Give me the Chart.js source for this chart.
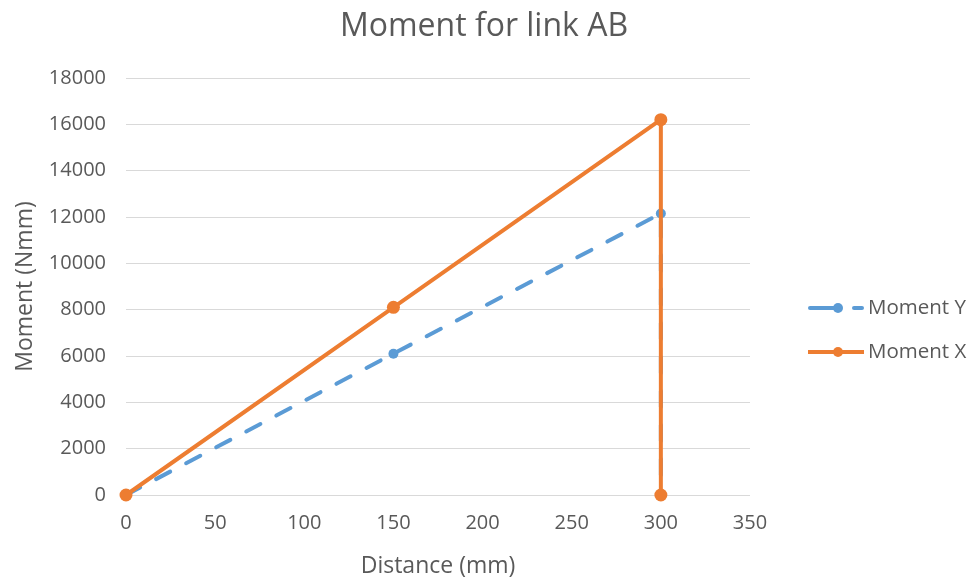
<!DOCTYPE html>
<html>
<head>
<meta charset="utf-8">
<script src="https://cdn.jsdelivr.net/npm/chart.js@4/dist/chart.umd.min.js"></script>
<style>
  html, body { margin: 0; padding: 0; background: #ffffff; }
  #wrap { width: 974px; height: 581px; }
</style>
</head>
<body>
<div id="wrap"><canvas id="c" width="974" height="581"></canvas></div>
<script>
// Distances along link AB (mm)
const distance = [0, 150, 300, 300];
// Bending moments (Nmm)
const momentY = [0, 6100, 12150, 0];
const momentX = [0, 8100, 16200, 0];
const seriesNames = ['Moment Y', 'Moment X'];
const seriesColors = ['#5b9bd5', '#ed7d31'];
const chartTitle = 'Moment for link AB';
const FONT = '"Open Sans", "Noto Sans", "Liberation Sans", sans-serif';
const TEXT = '#595959';

const toPoints = vals => vals.map((v, i) => ({ x: distance[i], y: v }));

// Centered title across the full canvas width
const topTitle = {
  id: 'topTitle',
  afterDraw(chart) {
    const ctx = chart.ctx;
    ctx.save();
    ctx.fillStyle = TEXT;
    ctx.font = '32px ' + FONT;
    ctx.textAlign = 'center';
    ctx.textBaseline = 'alphabetic';
    ctx.fillText(chartTitle, 484, 36);
    ctx.restore();
  }
};

// Legend on the right: line + marker swatch (dashed for Moment Y)
const sideLegend = {
  id: 'sideLegend',
  afterDraw(chart) {
    const ctx = chart.ctx;
    const x0 = 808, rows = [308, 352];
    ctx.save();
    chart.data.datasets.forEach((ds, i) => {
      const y = rows[i];
      ctx.strokeStyle = ds.borderColor;
      ctx.fillStyle = ds.borderColor;
      ctx.lineWidth = 4;
      if (ds.borderDash && ds.borderDash.length) {
        ctx.lineCap = 'round';
        ctx.beginPath(); ctx.moveTo(x0 + 2, y); ctx.lineTo(x0 + 28, y); ctx.stroke();
        ctx.beginPath(); ctx.moveTo(x0 + 46, y); ctx.lineTo(x0 + 54, y); ctx.stroke();
      } else {
        ctx.lineCap = 'butt';
        ctx.beginPath(); ctx.moveTo(x0, y); ctx.lineTo(x0 + 56, y); ctx.stroke();
      }
      ctx.beginPath(); ctx.arc(x0 + 30, y, 5, 0, Math.PI * 2); ctx.fill();
      ctx.fillStyle = TEXT;
      ctx.font = '20.5px ' + FONT;
      ctx.textBaseline = 'middle';
      ctx.textAlign = 'left';
      ctx.fillText(ds.label, x0 + 60, y);
    });
    ctx.restore();
  }
};

new Chart(document.getElementById('c'), {
  type: 'line',
  data: {
    datasets: [
      {
        label: seriesNames[0],
        data: toPoints(momentY),
        borderColor: seriesColors[0],
        backgroundColor: seriesColors[0],
        borderWidth: 4,
        borderDash: [16, 18],
        borderCapStyle: 'round',
        pointRadius: 5,
        pointHoverRadius: 5,
        pointBorderWidth: 0,
        tension: 0,
        clip: false,
        order: 2
      },
      {
        label: seriesNames[1],
        data: toPoints(momentX),
        borderColor: seriesColors[1],
        backgroundColor: seriesColors[1],
        borderWidth: 4,
        pointRadius: 6.5,
        pointHoverRadius: 6.5,
        pointBorderWidth: 0,
        tension: 0,
        clip: false,
        order: 1
      }
    ]
  },
  options: {
    responsive: false,
    animation: false,
    layout: { padding: { left: 0, right: 224, top: 78, bottom: 0 } },
    plugins: {
      legend: { display: false },
      tooltip: { enabled: false },
      title: { display: false }
    },
    scales: {
      x: {
        type: 'linear',
        min: 0, max: 350,
        ticks: { stepSize: 50, color: TEXT, font: { family: FONT, size: 20 }, padding: 16, callback: v => String(v) },
        grid: { display: false, drawTicks: false },
        border: { display: false },
        title: { display: true, text: 'Distance (mm)', color: TEXT, font: { family: FONT, size: 23 }, padding: { top: 4, bottom: 1 } },
        afterFit(s) { s.height = 86; }
      },
      y: {
        min: 0, max: 18000,
        ticks: { stepSize: 2000, color: TEXT, font: { family: FONT, size: 20 }, padding: 20, callback: v => String(v) },
        grid: { color: '#d9d9d9', lineWidth: 1, drawTicks: false },
        border: { display: false },
        title: { display: true, text: 'Moment (Nmm)', color: TEXT, font: { family: FONT, size: 23 }, padding: { top: 12, bottom: 0 } },
        afterFit(s) { s.width = 126; }
      }
    }
  },
  plugins: [sideLegend, topTitle]
});
</script>
</body>
</html>
